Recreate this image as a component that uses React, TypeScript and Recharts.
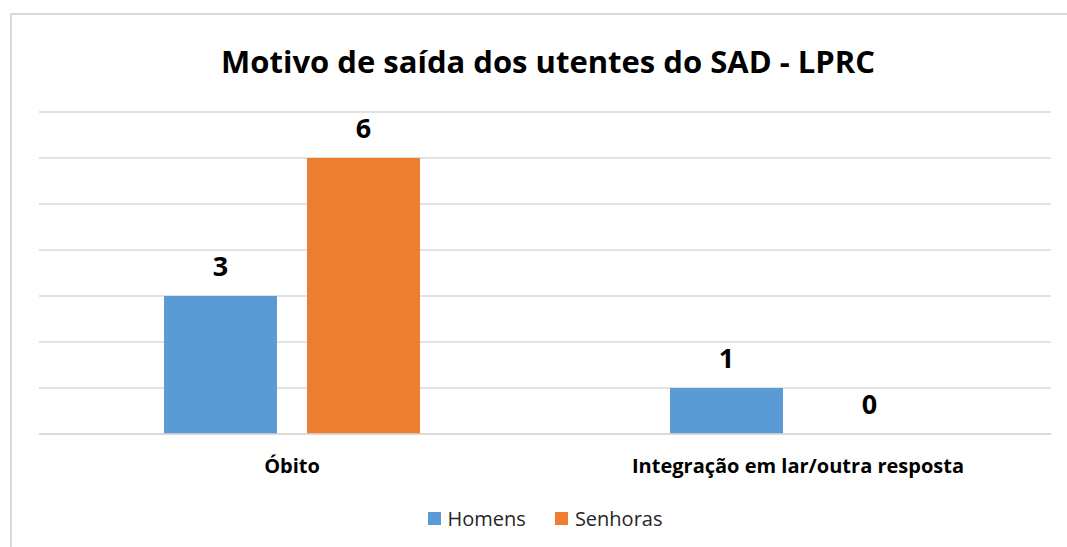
import { Bar, BarChart, CartesianGrid, LabelList, Legend, XAxis, YAxis } from "recharts";

const categories = ["Óbito", "Integração em lar/outra resposta"];
const homens = [3, 1];
const senhoras = [6, 0];
const yTicks = [0, 1, 2, 3, 4, 5, 6, 7];

const BLUE = "#5b9bd5";
const ORANGE = "#ed7d31";
const GRID = "#d9d9d9";
const FONT = "'Open Sans', 'Noto Sans', sans-serif";

const data = categories.map((name, i) => ({ name, homens: homens[i], senhoras: senhoras[i] }));

// value label drawn above the bar, also for zero-height bars
function ValueLabel(props: any) {
  const { x, y, width, value } = props;
  if (value === undefined || value === null) return null;
  return (
    <text x={Number(x) + Number(width) / 2} y={Number(y) - 20} textAnchor="middle"
      style={{ fill: "#000", fontSize: 27, fontWeight: 700, fontFamily: FONT }}>
      {value}
    </text>
  );
}

function LegendContent(props: any) {
  const items = props.payload || [];
  return (
    <div style={{ display: "flex", justifyContent: "center", gap: 29, fontFamily: FONT, fontSize: 20, color: "#262626" }}>
      {items.map((it: any) => (
        <div key={it.value} style={{ display: "flex", alignItems: "center" }}>
          <span style={{ display: "inline-block", width: 13, height: 13, background: it.color, marginRight: 7 }} />
          <span>{it.value}</span>
        </div>
      ))}
    </div>
  );
}

export default function App() {
  return (
    <div style={{ position: "absolute", left: 0, top: 0, width: 1067, height: 547, background: "#fff", overflow: "hidden", fontFamily: FONT }}>
      <div style={{ position: "absolute", left: 10, top: 13, width: 1100, height: 600, border: `2px solid ${GRID}`, boxSizing: "border-box" }} />
      <div style={{ position: "absolute", left: 42, width: 1012, top: 40, textAlign: "center", fontWeight: 700, fontSize: 31, color: "#000" }}>
        Motivo de saída dos utentes do SAD - LPRC
      </div>
      <div style={{ position: "absolute", left: 0, top: 0 }}>
        <BarChart width={1067} height={547} data={data} margin={{ top: 112, left: 39, right: 16, bottom: 46 }} barCategoryGap={125} barGap={30}>
          <CartesianGrid stroke={GRID} strokeWidth={1.5} vertical={false} />
          <XAxis dataKey="name" axisLine={{ stroke: GRID, strokeWidth: 1.5 }} tickLine={false} height={40}
            tick={{ fill: "#000", fontSize: 20, fontWeight: 700, fontFamily: FONT }} tickMargin={19} />
          <YAxis hide domain={[0, 7]} ticks={yTicks} />
          <Legend verticalAlign="bottom" wrapperStyle={{ bottom: 15 }} content={LegendContent} />
          <Bar dataKey="homens" name="Homens" fill={BLUE} minPointSize={0.01} isAnimationActive={false}>
            <LabelList dataKey="homens" content={ValueLabel} />
          </Bar>
          <Bar dataKey="senhoras" name="Senhoras" fill={ORANGE} minPointSize={0.01} isAnimationActive={false}>
            <LabelList dataKey="senhoras" content={ValueLabel} />
          </Bar>
        </BarChart>
      </div>
    </div>
  );
}
